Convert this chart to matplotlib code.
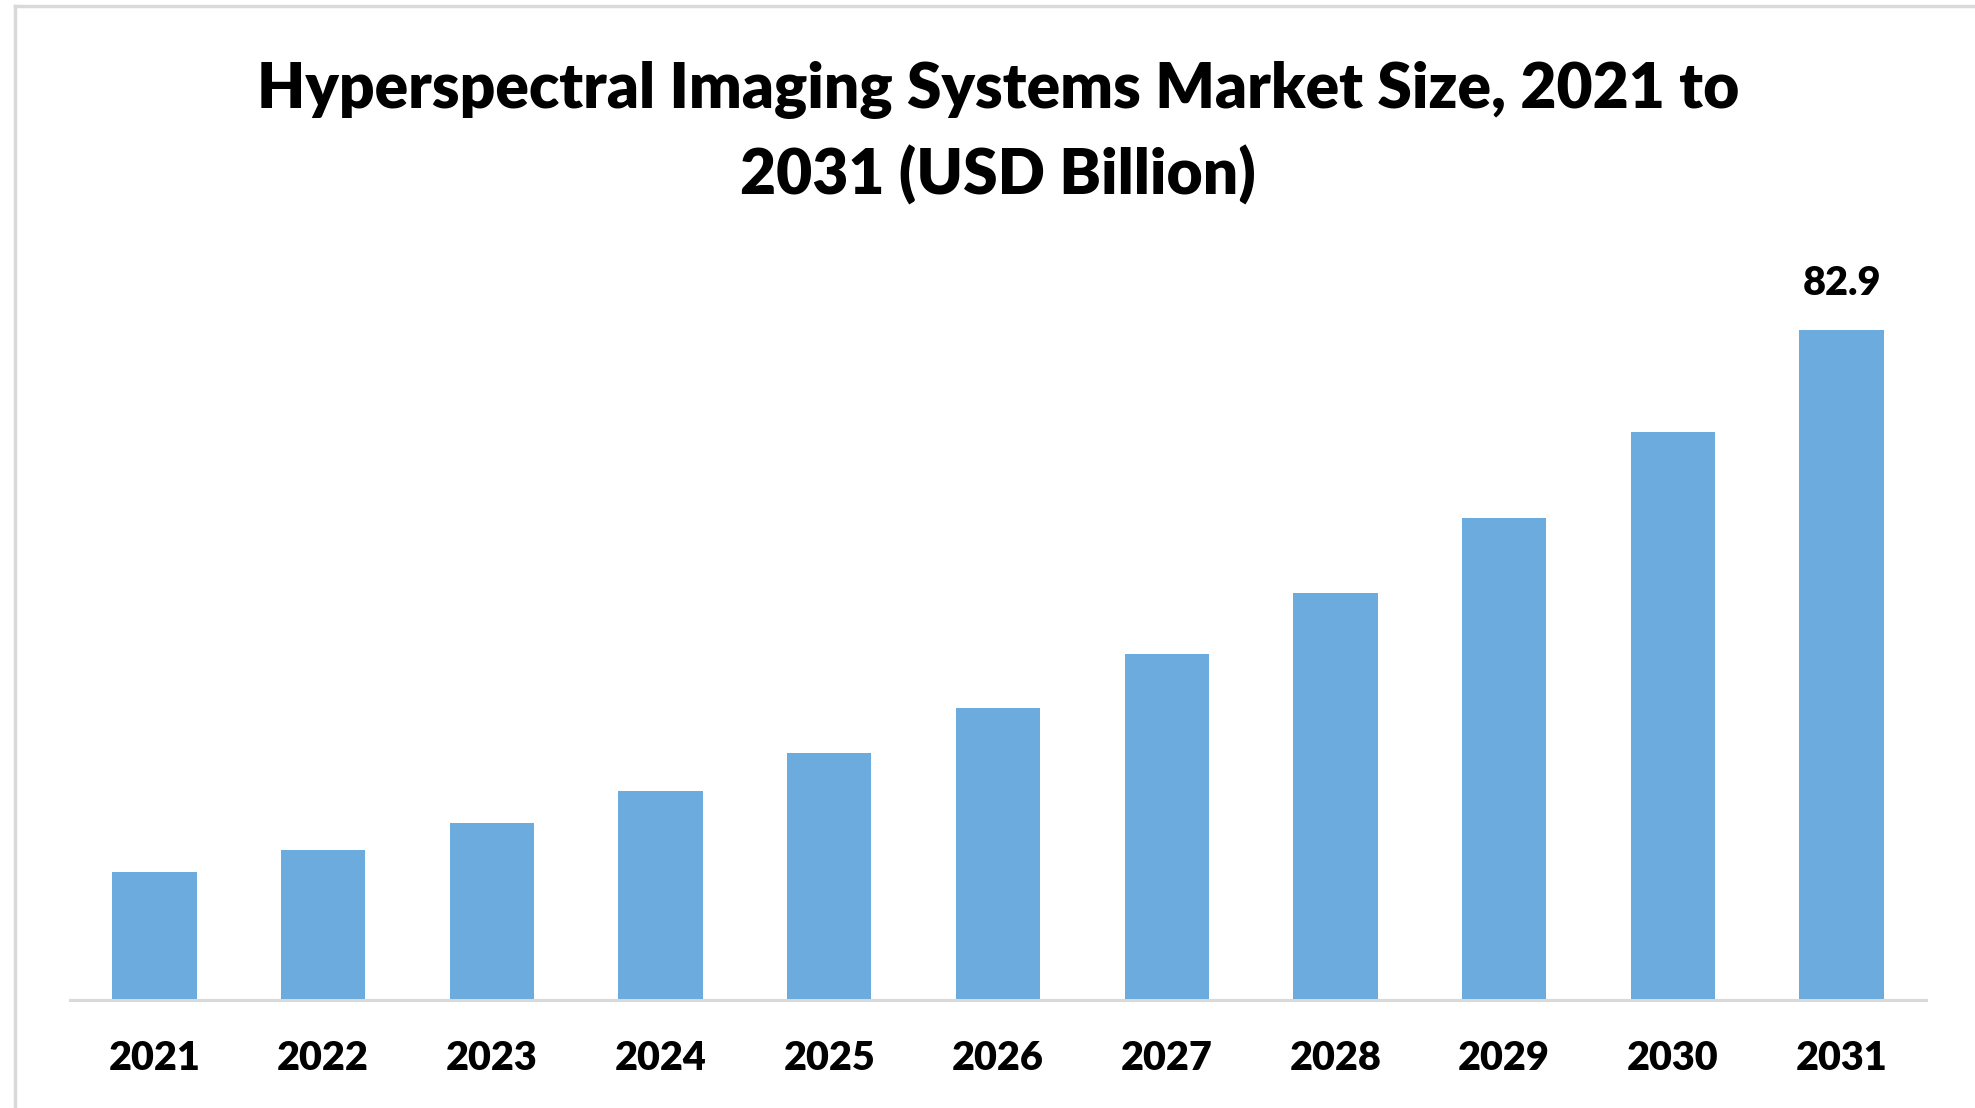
import matplotlib
matplotlib.use("Agg")
import matplotlib.pyplot as plt
from matplotlib.lines import Line2D

plt.rcParams['font.family'] = ['Lato', 'DejaVu Sans']

years = ['2021', '2022', '2023', '2024', '2025', '2026',
         '2027', '2028', '2029', '2030', '2031']
market_size = [15.8, 18.6, 21.9, 25.9, 30.6, 36.2, 42.8, 50.4, 59.6, 70.3, 82.9]
labelled = {'2031': 82.9}

BAR_COLOR = '#6cabdd'
GRID_GREY = '#d9d9d9'
WEIGHT = 'heavy'

W, H = 1975, 1108
fig = plt.figure(figsize=(W / 100, H / 100), dpi=100)

# plot area in pixels: x 70..1926, baseline at y=1000, 0..100 spans 808 px
left, right, base = 70, 1926, 1000
ax_h = 808
ax = fig.add_axes([left / W, (H - base) / H, (right - left) / W, ax_h / H])

x = range(len(years))
bars = ax.bar(x, market_size, width=0.5, color=BAR_COLOR)
ax.set_xlim(-0.5, len(years) - 0.5)
ax.set_ylim(0, 100)

for rect, yr, val in zip(bars, years, market_size):
    if yr in labelled:
        ax.annotate(f'{val:.1f}', (rect.get_x() + rect.get_width() / 2, val),
                    xytext=(0, 47), textcoords='offset pixels',
                    ha='center', va='center', fontsize=28.5, fontweight=WEIGHT)

ax.set_xticks(list(x))
ax.set_xticklabels(years, fontsize=28.5, fontweight=WEIGHT)
ax.tick_params(axis='x', length=0, pad=29)
ax.set_yticks([])
for side in ['left', 'right', 'top']:
    ax.spines[side].set_visible(False)
ax.spines['bottom'].set_color(GRID_GREY)
ax.spines['bottom'].set_linewidth(2.2)

fig.text(998 / W, 1 - 90 / H, 'Hyperspectral Imaging Systems Market Size, 2021 to',
         ha='center', va='center', fontsize=44.8, fontweight=WEIGHT)
fig.text(998 / W, 1 - 175 / H, '2031 (USD Billion)',
         ha='center', va='center', fontsize=44.8, fontweight=WEIGHT)

# outer chart frame (top and left edges only are in view)
fig.add_artist(Line2D([15 / W, 15 / W], [0, 1 - 6 / H], color=GRID_GREY, lw=2.5,
                      transform=fig.transFigure))
fig.add_artist(Line2D([15 / W, 1], [1 - 6 / H, 1 - 6 / H], color=GRID_GREY, lw=2.5,
                      transform=fig.transFigure))

fig.savefig('out.png', dpi=100, facecolor='white')
